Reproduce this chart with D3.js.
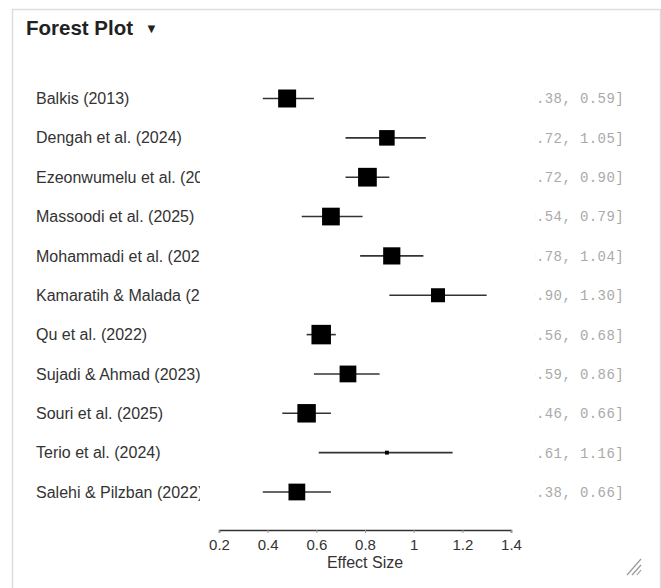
<!DOCTYPE html>
<html>
<head>
<meta charset="utf-8">
<script src="https://cdn.jsdelivr.net/npm/d3@7"></script>
<style>
  body { margin: 0; background: #fff; }
  svg { display: block; }
</style>
</head>
<body>
<div id="chart"></div>
<script>
// ---- data ----
const studies = [
  "Balkis (2013)",
  "Dengah et al. (2024)",
  "Ezeonwumelu et al. (2024)",
  "Massoodi et al. (2025)",
  "Mohammadi et al. (2023)",
  "Kamaratih & Malada (2023)",
  "Qu et al. (2022)",
  "Sujadi & Ahmad (2023)",
  "Souri et al. (2025)",
  "Terio et al. (2024)",
  "Salehi & Pilzban (2022)"
];
const estimates = [0.48, 0.89, 0.81, 0.66, 0.91, 1.10, 0.62, 0.73, 0.56, 0.89, 0.52];
const lower     = [0.38, 0.72, 0.72, 0.54, 0.78, 0.90, 0.56, 0.59, 0.46, 0.61, 0.38];
const upper     = [0.59, 1.05, 0.90, 0.79, 1.04, 1.30, 0.68, 0.86, 0.66, 1.16, 0.66];
const weights   = [10.7, 8.0, 11.6, 10.4, 9.8, 6.5, 12.6, 9.3, 11.3, 0.5, 9.3];
const xTicks    = [0.2, 0.4, 0.6, 0.8, 1.0, 1.2, 1.4];

const rows = studies.map((s, i) => ({
  study: s, est: estimates[i], lo: lower[i], hi: upper[i], w: weights[i]
}));

// ---- layout ----
const W = 661, H = 588;
const svg = d3.select('#chart').append('svg')
  .attr('width', W)
  .attr('height', H);

// panel frame
svg.append('rect')
  .attr('x', 12.5).attr('y', 9.5)
  .attr('width', 648).attr('height', 620)
  .attr('fill', '#fff')
  .attr('stroke', '#ddd')
  .attr('stroke-width', 1.5);

// title
const title = svg.append('text')
  .attr('x', 26).attr('y', 35)
  .style('font-family', '"Liberation Sans", Arial, sans-serif')
  .style('font-size', '20.5px')
  .style('font-weight', 'bold')
  .attr('fill', '#222')
  .text('Forest Plot');
title.append('tspan')
  .attr('dx', 12).attr('dy', -2)
  .style('font-size', '13px')
  .text('▼');

// scales
const x = d3.scaleLinear().domain([0.2, 1.4]).range([219, 511]);
const y = d3.scalePoint().domain(studies).range([98.5, 492]);
const size = d3.scaleSqrt().domain([0, d3.max(weights)]).range([0, 19.5]);

// clip regions for the study names and CI text
const defs = svg.append('defs');
defs.append('clipPath').attr('id', 'clip-names')
  .append('rect').attr('x', 0).attr('y', 0).attr('width', 200).attr('height', H);
defs.append('clipPath').attr('id', 'clip-ci')
  .append('rect').attr('x', 535).attr('y', 0).attr('width', 130).attr('height', H);

// study names
svg.append('g')
  .attr('clip-path', 'url(#clip-names)')
  .selectAll('text')
  .data(rows)
  .join('text')
  .attr('x', 36)
  .attr('y', d => y(d.study))
  .attr('dy', '0.35em')
  .style('font-family', '"Liberation Sans", Arial, sans-serif')
  .style('font-size', '16px')
  .attr('fill', '#333')
  .text(d => d.study);

// confidence interval lines
svg.append('g')
  .selectAll('line')
  .data(rows)
  .join('line')
  .attr('x1', d => x(d.lo))
  .attr('x2', d => x(d.hi))
  .attr('y1', d => y(d.study))
  .attr('y2', d => y(d.study))
  .attr('stroke', '#333')
  .attr('stroke-width', 1.6);

// weighted squares
svg.append('g')
  .selectAll('rect')
  .data(rows)
  .join('rect')
  .attr('x', d => x(d.est) - size(d.w) / 2)
  .attr('y', d => y(d.study) - size(d.w) / 2)
  .attr('width', d => size(d.w))
  .attr('height', d => size(d.w))
  .attr('fill', '#000');

// CI text on the right
svg.append('g')
  .attr('clip-path', 'url(#clip-ci)')
  .selectAll('text')
  .data(rows)
  .join('text')
  .attr('x', 624)
  .attr('y', d => y(d.study))
  .attr('dy', '0.35em')
  .attr('text-anchor', 'end')
  .style('font-family', '"Liberation Mono", "Courier New", monospace')
  .style('font-size', '14px')
  .style('letter-spacing', '0.4px')
  .attr('fill', '#aaa')
  .text(d => `${d.est.toFixed(2)} [${d.lo.toFixed(2)}, ${d.hi.toFixed(2)}]`);

// x axis
const xAxis = d3.axisBottom(x)
  .tickValues(xTicks)
  .tickSize(3)
  .tickSizeOuter(3)
  .tickPadding(6)
  .tickFormat(d3.format('~g'));

const gx = svg.append('g')
  .attr('transform', 'translate(0,530)')
  .call(xAxis);
gx.select('.domain').attr('stroke', '#333').attr('stroke-width', 1.5);
gx.selectAll('.tick line').attr('stroke', '#999');
gx.selectAll('.tick text')
  .style('font-family', '"Liberation Sans", Arial, sans-serif')
  .style('font-size', '15px')
  .attr('fill', '#333');

svg.append('text')
  .attr('x', (x.range()[0] + x.range()[1]) / 2)
  .attr('y', 568)
  .attr('text-anchor', 'middle')
  .style('font-family', '"Liberation Sans", Arial, sans-serif')
  .style('font-size', '16px')
  .attr('fill', '#333')
  .text('Effect Size');

// resize grip in the corner
const grip = svg.append('g').attr('stroke', '#999').attr('stroke-width', 1.2);
[[627, 575, 641, 559], [632, 575, 641, 565], [637, 575, 641, 570]].forEach(p => {
  grip.append('line')
    .attr('x1', p[0]).attr('y1', p[1])
    .attr('x2', p[2]).attr('y2', p[3]);
});
</script>
</body>
</html>
